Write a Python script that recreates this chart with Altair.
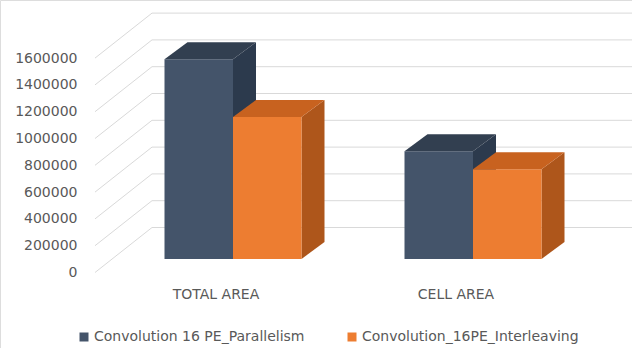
import altair as alt
import pandas as pd

# ---------------- data ----------------
CATEGORIES = ["TOTAL AREA", "CELL AREA"]
SERIES = ["Convolution 16 PE_Parallelism", "Convolution_16PE_Interleaving"]
PARALLELISM = [1490000, 805000]
INTERLEAVING = [1060000, 670000]
TICKS = [0, 200000, 400000, 600000, 800000, 1000000, 1200000, 1400000, 1600000]

FRONT_COLORS = ["#44546A", "#ED7D31"]
SIDE_COLORS = ["#2C3A4D", "#AE561B"]
TOP_COLORS = ["#323F50", "#C8621F"]

# ---------------- layout (pseudo-3D projection) ----------------
W, H = 632, 348
UPP = 200000 / 26.8          # value units per pixel
Y0_PX = 272.5                # pixel row of value 0 on front wall
WALL_X0 = 95                 # front-left edge of side wall
WALL_DX, WALL_DY = 57, 45    # wall depth in px
BAR_FRONT_DX, BAR_FRONT_DY = 17, 13.5
BAR_DX, BAR_DY = 23, 17
BAND_START, BAND_W = 96, 240
BAR_W = 68.5
LABEL_DROP = 22.5

ydom = [-(H - Y0_PX) * UPP, Y0_PX * UPP]
xs = alt.Scale(domain=[0, W], nice=False, zero=False)
ys = alt.Scale(domain=ydom, nice=False, zero=False)
FONT = "DejaVu Sans"
GRAY = "#595959"

yaxis = alt.Axis(values=TICKS, offset=-80, domain=False, ticks=False, grid=False,
                 labelPadding=3, labelFont=FONT, labelFontSize=14, labelColor=GRAY,
                 title=None, format="d", labelOverlap=False)

# gridlines
diag_rows, back_rows = [], []
for v in TICKS:
    diag_rows.append({"x": WALL_X0, "x2": WALL_X0 + WALL_DX, "y": v, "y2": v + WALL_DY * UPP})
    back_rows.append({"x": WALL_X0 + WALL_DX, "x2": W, "y": v + WALL_DY * UPP, "y2": v + WALL_DY * UPP})
grid_df = pd.DataFrame(diag_rows + back_rows)

# bar faces
front_rows, side_rows, top_rows = [], [], []
vals = [PARALLELISM, INTERLEAVING]
for i, cat in enumerate(CATEGORIES):
    center = BAND_START + BAND_W * (i + 0.5)
    for s, ser in enumerate(SERIES):
        v = vals[s][i]
        bid = f"{i}-{s}"
        L = center - BAR_W + s * BAR_W + BAR_FRONT_DX
        R = L + BAR_W
        yb = BAR_FRONT_DY * UPP
        yt = v + BAR_FRONT_DY * UPP
        d = BAR_DY * UPP
        front_rows.append({"series": ser, "x": L, "x2": R, "y": yb, "y2": yt})
        side_rows.append({"bid": bid, "c": SIDE_COLORS[s], "x": R, "lo": yb, "hi": yt})
        side_rows.append({"bid": bid, "c": SIDE_COLORS[s], "x": R + BAR_DX, "lo": yb + d, "hi": yt + d})
        top_rows.append({"bid": bid, "c": TOP_COLORS[s], "y": yt, "xl": L, "xr": R})
        top_rows.append({"bid": bid, "c": TOP_COLORS[s], "y": yt + d, "xl": L + BAR_DX, "xr": R + BAR_DX})

label_df = pd.DataFrame({
    "cat": CATEGORIES,
    "x": [BAND_START + BAND_W * (i + 0.5) for i in range(len(CATEGORIES))],
    "y": [-LABEL_DROP * UPP] * len(CATEGORIES),
})

grid = alt.Chart(grid_df).mark_rule(color="#D9D9D9", strokeWidth=1).encode(
    x=alt.X("x:Q", scale=xs, axis=None), x2="x2:Q",
    y=alt.Y("y:Q", scale=ys, axis=yaxis), y2="y2:Q",
)

side = alt.Chart(pd.DataFrame(side_rows)).mark_area(orient="vertical").encode(
    x=alt.X("x:Q", scale=xs, axis=None),
    y=alt.Y("lo:Q", scale=ys, axis=yaxis), y2="hi:Q",
    detail="bid:N",
    color=alt.Color("c:N", scale=None, legend=None),
)

front = alt.Chart(pd.DataFrame(front_rows)).mark_rect().encode(
    x=alt.X("x:Q", scale=xs, axis=None), x2="x2:Q",
    y=alt.Y("y:Q", scale=ys, axis=yaxis), y2="y2:Q",
    color=alt.Color("series:N", scale=alt.Scale(domain=SERIES, range=FRONT_COLORS),
                    legend=alt.Legend(title=None, orient="none", legendX=77, legendY=330,
                                      direction="horizontal", symbolType="square",
                                      symbolSize=81, symbolStrokeWidth=0, padding=0,
                                      columnPadding=40, labelFont=FONT, labelFontSize=14,
                                      labelColor=GRAY, labelOffset=3, labelLimit=0)),
)

top = alt.Chart(pd.DataFrame(top_rows)).mark_area(orient="horizontal").encode(
    y=alt.Y("y:Q", scale=ys, axis=yaxis),
    x=alt.X("xl:Q", scale=xs, axis=None), x2="xr:Q",
    detail="bid:N",
    color=alt.Color("c:N", scale=None, legend=None),
)

labels = alt.Chart(label_df).mark_text(font=FONT, fontSize=14, color=GRAY, baseline="middle").encode(
    x=alt.X("x:Q", scale=xs, axis=None),
    y=alt.Y("y:Q", scale=ys, axis=yaxis),
    text="cat:N",
)

chart = alt.layer(grid, side, front, top, labels).resolve_scale(color="independent").properties(
    width=W, height=H, autosize=alt.AutoSizeParams(type="none"), padding=0,
).configure_view(stroke=None).configure(background="white")

chart.save("out.html", embed_options={"renderer": "svg", "actions": False})
